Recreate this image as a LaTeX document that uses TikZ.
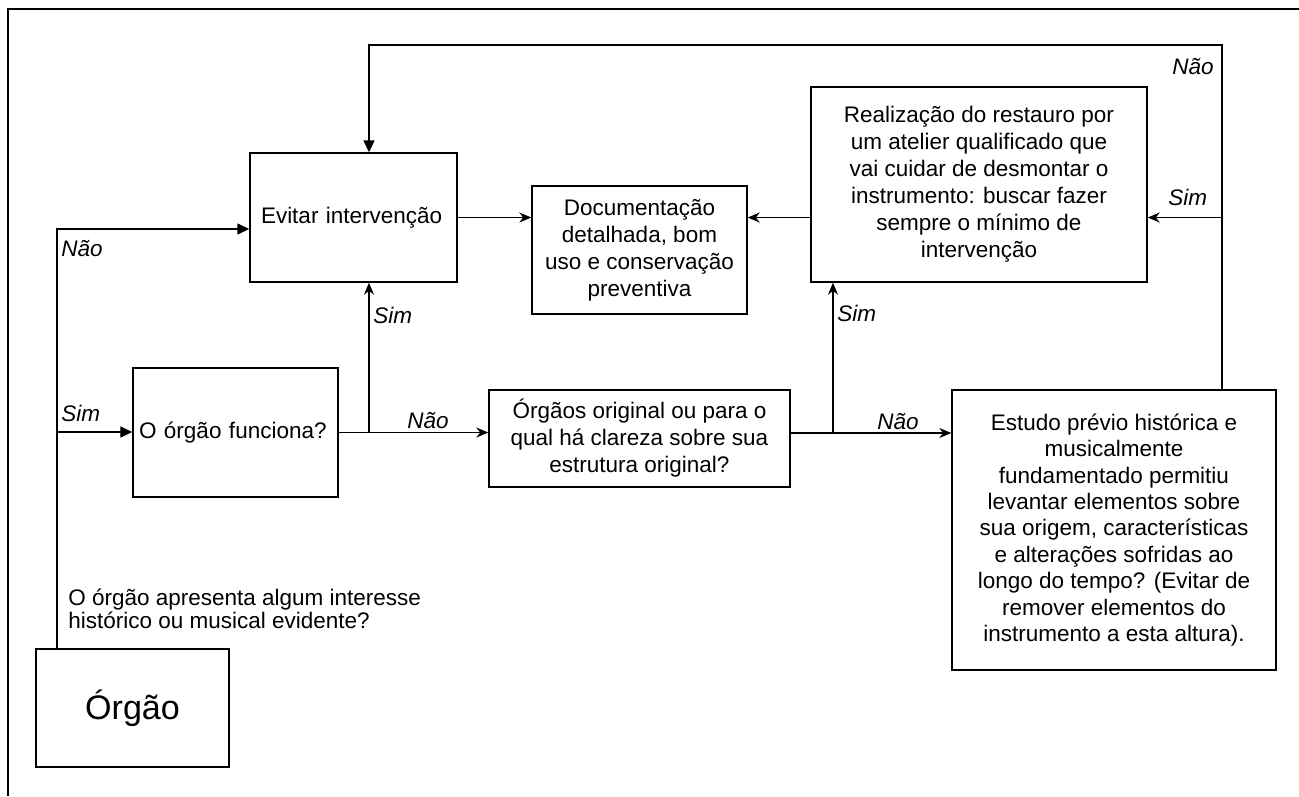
\documentclass[tikz,border=0pt]{standalone}
\usepackage{fontspec}
\setmainfont{Liberation Sans}
\usetikzlibrary{arrows.meta}

\tikzset{
  box/.style={draw, line width=0.8pt, align=center, inner sep=0pt,
    font=\fontsize{12.8}{15.4}\selectfont},
  lbl/.style={font=\fontsize{12.8}{15.4}\selectfont\itshape, inner sep=0pt, anchor=west},
  wire/.style={draw, line width=0.8pt},
  flow/.style={wire, -{Stealth[length=2.4mm,width=2mm]}},
  flowtri/.style={wire, -{Triangle[length=2.4mm,width=2.2mm]}}
}

\begin{document}
\begin{tikzpicture}[x=0.2mm,y=-0.2mm]

  % One unit = one pixel of the drawing, y grows downwards.
  \useasboundingbox (0,0) rectangle (1299,796);

  % Frame: only the top and left edges show
  \draw[wire] (1299,9) -- (8,9) -- (8,796);

  % Boxes, placed at their centres
  \node[box, minimum width=38.6mm, minimum height=23.6mm,
        font=\fontsize{19.4}{22}\selectfont] (orgao) at (132.5,708) {Órgão};
  \node[box, minimum width=41mm, minimum height=25.8mm, align=left,
        inner xsep=1.2mm, text width=38.6mm] (funciona) at (235.5,432.5) {O órgão funciona?};
  \node[box, minimum width=41.4mm, minimum height=25.8mm, align=left,
        inner xsep=2.2mm, text width=37mm] (evitar) at (353.5,217.5) {Evitar intervenção};
  \node[box, minimum width=43mm, minimum height=25.6mm] (doc) at (639.5,250)
    {Documentação\\detalhada, bom\\uso e conservação\\preventiva};
  \node[box, minimum width=60.2mm, minimum height=19.4mm] (orgaos) at (639.5,438.5)
    {Órgãos original ou para o\\qual há clareza sobre sua\\estrutura original?};
  \node[box, minimum width=67.2mm, minimum height=39mm] (real) at (979,184.5)
    {Realização do restauro por\\um atelier qualificado que\\vai cuidar de desmontar o\\instrumento: buscar fazer\\sempre o mínimo de\\intervenção};
  \node[box, minimum width=64.8mm, minimum height=56mm,
        font=\fontsize{12.8}{15}\selectfont] (estudo) at (1114,530)
    {Estudo prévio histórica e\\musicalmente\\fundamentado permitiu\\levantar elementos sobre\\sua origem, características\\e alterações sofridas ao\\longo do tempo? (Evitar de\\remover elementos do\\instrumento a esta altura).};

  % Question standing above the start box
  \node[align=left, inner sep=0pt, anchor=west, font=\fontsize{12.8}{13.2}\selectfont]
    (pergunta) at (68,608.5) {O órgão apresenta algum interesse\\histórico ou musical evidente?};

  % Bends and branch points of the connectors
  \coordinate (nao0) at (57,229);
  \coordinate (split0) at (57,432);
  \coordinate (split1) at (369,432);
  \coordinate (split2) at (833,433);
  \coordinate (loop) at (1222,45);

  % Connectors
  \draw[flowtri] (split0 |- orgao.north) -- (nao0) -- (nao0 -| evitar.west);
  \draw[flowtri] (split0) -- (split0 -| funciona.west);
  \draw[flow] (funciona.east) -- (funciona.east -| orgaos.west);
  \draw[flow] (split1) -- (split1 |- evitar.south);
  \draw[flow] (evitar.east) -- (evitar.east -| doc.west);
  \draw[flow] (orgaos.east |- split2) -- (split2 -| estudo.west);
  \draw[flow] (split2) -- (split2 |- real.south);
  \draw[flow] (real.west |- evitar.east) -- (doc.east |- evitar.east);
  \draw[flowtri] (loop |- estudo.north) -- (loop) -- (split1 |- loop) -- (split1 |- evitar.north);
  \draw[flow] (loop |- evitar.east) -- (real.east |- evitar.east);

  % Answers on the connectors
  \node[lbl] (nao0lbl) at (61,249) {Não};
  \node[lbl] (sim0lbl) at (61,413) {Sim};
  \node[lbl] (sim1lbl) at (373,315) {Sim};
  \node[lbl] (nao1lbl) at (407,421) {Não};
  \node[lbl] (sim2lbl) at (837,313) {Sim};
  \node[lbl] (nao2lbl) at (877,422) {Não};
  \node[lbl] (sim3lbl) at (1168,197) {Sim};
  \node[lbl] (nao3lbl) at (1172,67) {Não};

\end{tikzpicture}
\end{document}
